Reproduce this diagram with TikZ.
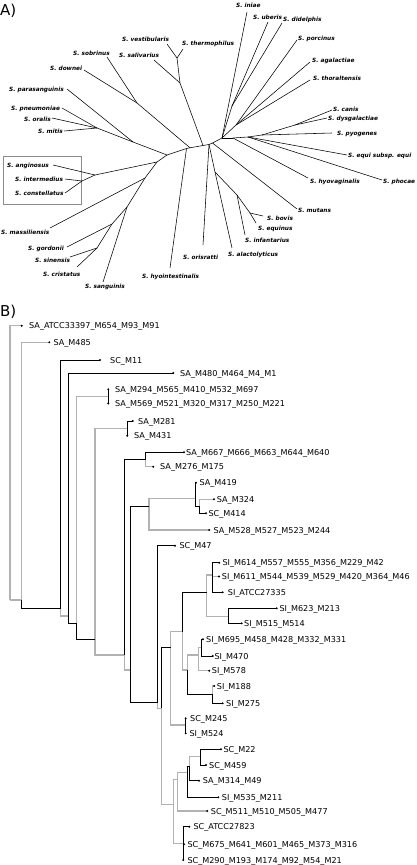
\documentclass[tikz,border=0pt]{standalone}
\usepackage{fontspec}
\newfontfamily\dvs{DejaVu Sans}
\begin{document}
\begin{tikzpicture}[x=1pt,y=-1pt,
  kline/.style={line width=0.6pt,black},
  gline/.style={line width=1.2pt,black!30},
  aline/.style={line width=0.55pt,black},
  tl/.style={font=\dvs\fontsize{8.1}{9}\selectfont,anchor=base west,inner sep=0pt},
  al/.style={font=\dvs\bfseries\itshape\fontsize{5.8}{7}\selectfont,anchor=base west,inner sep=0pt},
  hd/.style={font=\dvs\fontsize{15}{18}\selectfont,anchor=base west,inner sep=0pt}]
\useasboundingbox (0,0) rectangle (416,865);
\node[hd] (hA) at (0,15) {A)};
\node[hd] (hB) at (0,316) {B)};
% ---------------- Panel A ----------------
\draw[black!45,line width=0.6pt] (3,156) rectangle (81,204);
\foreach \n/\x/\y in {aSal1/177/58,aSal2/180/83,aR2/203/145.5,aMit1/97/128,aMit2/133/142,aA/167/155,
  aDow1/137/103,aD/190/147.8,aAng1/82/181,aAng2/95/175,aN1/157/162,aSan0/145/178,aSan1/127/207,
  aSan2/112/224,aSan3/97/248,aP0/186.5/148.5,aR3/209/144.5,aK1/215/172,aK2/237/195,aK3/250/213,
  aM2/212.5/143,aC1/222/138,aU1/232/106,aQ1/236/125,aH/233/138,aE1/248/137,aE2/262/135,aCD/295/125}
  {\coordinate (\n) at (\x,\y);}
\foreach \n/\ex/\ey/\lx/\ly/\t in {
  vest/167/44/122/41.3/S. vestibularis,
  therm/183/49/182/45.5/S. thermophilus,
  saliv/154/60/119/57.3/S. salivarius,
  sobr/107/57/73/55/S. sobrinus,
  down/84/70/50/70.3/S. downei,
  paras/67/89/9/91.3/S. parasanguinis,
  pneu/62/108/11/110.3/S. pneumoniae,
  oral/52/118/24/121/S. oralis,
  mitis/64/131/38/133.3/S. mitis,
  angi/53/165/7/167.3/S. anginosus,
  inter/65/179/15/181.3/S. intermedius,
  const/65/193/15/195.3/S. constellatus,
  mass/50/228/1/234/S. massiliensis,
  gord/67/247/28/250/S. gordonii,
  sine/70/257/35/262/S. sinensis,
  crist/77/267/43/276/S. cristatus,
  sang/103/282/85/288/S. sanguinis,
  hyoi/170/268/142/278/S. hyointestinalis,
  oris/203/245/183/259/S. orisratti,
  alac/232/248/228/256.3/S. alactolyticus,
  infa/245/235/245/242.3/S. infantarius,
  equin/256/223/258/230/S. equinus,
  bovis/263/216/267/220.3/S. bovis,
  mutans/297/209/298/212.3/S. mutans,
  hyov/308/178/310/183/S. hyovaginalis,
  phoc/382/180/383/183/S. phocae,
  equi/347/155/348/157.3/S. equi subsp. equi,
  pyog/332/133/337/135.3/S. pyogenes,
  dysg/327/118/328/120/S. dysgalactiae,
  canis/332/110/333/111/S. canis,
  thor/310/80/313/80.3/S. thoraltensis,
  agal/310/62/312/62.3/S. agalactiae,
  porc/297/40/298/40.3/S. porcinus,
  uber/268/22/253/19.3/S. uberis,
  didel/282/23/283/21.3/S. didelphis,
  iniae/247/12/236/7.3/S. iniae}
  {\coordinate (\n) at (\ex,\ey); \node[al] (L\n) at (\lx,\ly) {\t};}
\foreach \a/\b in {aSal1/vest,aSal1/therm,aSal2/aSal1,aSal2/saliv,aSal2/aR2,
  aMit1/pneu,aMit1/oral,aMit1/mitis,aMit2/aMit1,aMit2/paras,aA/aMit2,
  aDow1/sobr,aDow1/down,aD/aDow1,
  aAng1/inter,aAng1/const,aAng2/aAng1,aAng2/angi,aN1/aAng2,
  aSan3/sine,aSan3/crist,aSan2/aSan3,aSan2/gord,aSan1/aSan2,aSan1/sang,aSan0/aSan1,aSan0/mass,aN1/aSan0,aA/aN1,
  aA/aP0,aP0/hyoi,aP0/aD,aD/aR2,aR2/aR3,aR3/aM2,aM2/aC1,
  aR3/oris,aR3/aK1,aK1/alac,aK1/aK2,aK2/infa,aK2/aK3,aK3/bovis,aK3/equin,
  aM2/mutans,
  aC1/iniae,aC1/aU1,aU1/uber,aU1/didel,aC1/aQ1,aQ1/porc,aQ1/agal,aQ1/thor,
  aC1/aH,aH/hyov,aH/aE1,aE1/phoc,aE1/equi,aE1/aE2,aE2/pyog,aE2/aCD,aCD/canis,aCD/dysg}
  {\draw[aline] (\a) -- (\b);}
% ---------------- Panel B ----------------
\foreach \n/\x/\y in {S/10/600,T/21.7/600,U/60.7/608.3,V/68.3/616,W/76.5/623.3,N56/108.3/396.5,
  Z/95/639.3,N78/127.3/428.3,Y/124.3/655,N910/145.7/459.5,X/130/670,N1114/149/506,
  N1113/195/498.3,N1213/199.3/506.3,N47/157.5/702.3,Nbig/161.7/708.3,A1/170.7/647.3,
  A1a/182.7/631.7,P2/206.7/592.3,P/212.3/575,Q/228.3/616.7,B0/187.7/670,B1/198.3/655,
  B2/201.5/647.3,B3/212.5/694,C1/185.7/725,D0/173.5/804.3,D1/177.3/779.3,E3/187.3/772.7,
  E2/189.3/766,E1/200.7/756.7,F/183.3/843.3}
  {\coordinate (\n) at (\x,\y);}
\foreach \n/\x/\y/\tx/\t in {
  1/21.7/325.7/29/SA\_ATCC33397\_M654\_M93\_M91,
  2/49.3/342.3/53.3/SA\_M485,
  3/100/360/110/SC\_M11,
  4/173.3/373/180/SA\_M480\_M464\_M4\_M1,
  5/108.3/389.3/115/SA\_M294\_M565\_M410\_M532\_M697,
  6/108.3/403.5/115/SA\_M569\_M521\_M320\_M317\_M250\_M221,
  7/132.7/421/138/SA\_M281,
  8/127.3/435.7/134/SA\_M431,
  9/184/452.3/186/SA\_M667\_M666\_M663\_M644\_M640,
  10/153.3/466.7/160/SA\_M276\_M175,
  11/196/482.7/199.3/SA\_M419,
  12/214/499.3/216.7/SA\_M324,
  13/206/513.3/208.3/SC\_M414,
  14/209.3/530/213.3/SA\_M528\_M527\_M523\_M244,
  15/175/545.7/179.3/SC\_M47,
  16/219.3/562.7/222.3/SI\_M614\_M557\_M555\_M356\_M229\_M42,
  17/219/576.5/221.7/SI\_M611\_M544\_M539\_M529\_M420\_M364\_M46,
  18/222.7/592.3/227.7/SI\_ATCC27335,
  19/276.7/608.3/279.3/SI\_M623\_M213,
  20/241.7/623.3/244/SI\_M515\_M514,
  21/203/639.3/206/SI\_M695\_M458\_M428\_M332\_M331,
  22/212.7/656/214.3/SI\_M470,
  23/209.3/670.7/211.7/SI\_M578,
  24/214.3/686/216.7/SI\_M188,
  25/222.7/703.3/226/SI\_M275,
  26/185.7/718.3/190/SC\_M245,
  27/185.7/733.3/189.3/SI\_M524,
  28/221/749.3/223.3/SC\_M22,
  29/206/765/209/SC\_M459,
  30/199/780.7/202.7/SA\_M314\_M49,
  31/218.3/797.3/221.7/SI\_M535\_M211,
  32/207.3/811/210.7/SC\_M511\_M510\_M505\_M477,
  33/189.3/826.7/193.3/SC\_ATCC27823,
  34/184/844.3/187.3/SC\_M675\_M641\_M601\_M465\_M373\_M316,
  35/183.3/860/187.3/SC\_M290\_M193\_M174\_M92\_M54\_M21}
  {\coordinate (l\n) at (\x,\y); \node[tl] (t\n) at (\tx,\y+3) {\t};}
\foreach \a/\b in {S/l1,S/T,T/l2,U/V,W/N56,Z/N78,Z/Y,N910/l10,Y/X,N1114/N1113,N1213/l12,N1114/l14,
  N47/Nbig,A1/A1a,P2/P,P/l17,P2/Q,A1a/B0,B0/B1,B1/B2,B1/l23,B3/l24,A1/C1,Nbig/D0,D0/D1,D1/E3,
  E2/E1,D1/l32,D0/F}
  {\draw[gline] (\a) |- (\b);}
\foreach \a/\b in {T/U,U/l3,V/l4,V/W,N56/l5,N56/l6,W/Z,N78/l7,N78/l8,Y/N910,N910/l9,X/N1114,
  N1113/l11,N1113/N1213,N1213/l13,X/N47,N47/l15,Nbig/A1,A1a/P2,P/l16,P/l18,Q/l19,Q/l20,
  B2/l21,B2/l22,B0/B3,B3/l25,C1/l26,C1/l27,E3/E2,E1/l28,E1/l29,E2/l30,E3/l31,F/l33,F/l34,F/l35}
  {\draw[kline] (\a) |- (\b);}
\foreach \n in {1,...,35}{\fill (l\n) circle[radius=1.1pt];}
\end{tikzpicture}
\end{document}
